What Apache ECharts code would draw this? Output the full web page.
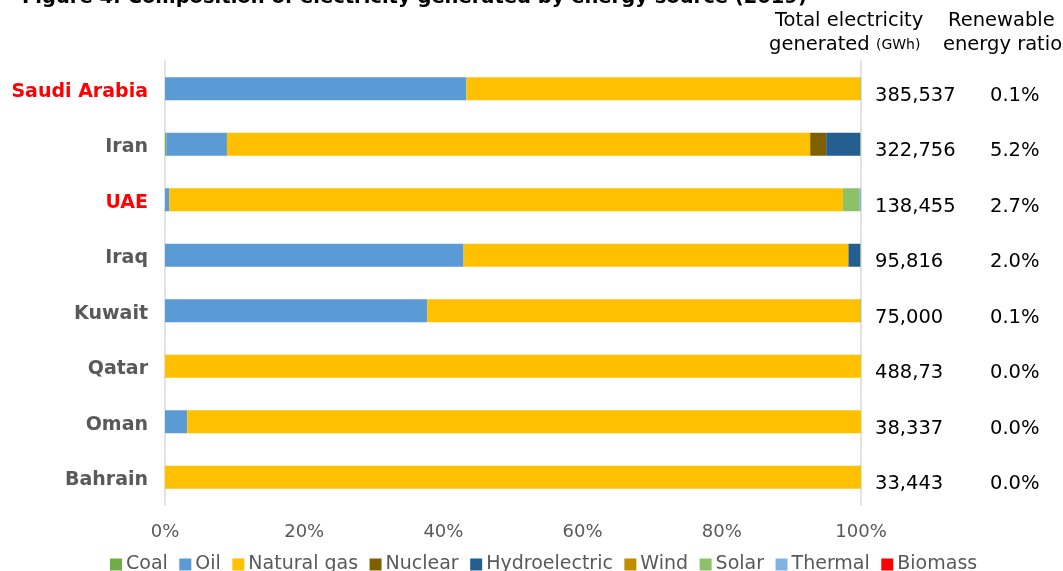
<!DOCTYPE html>
<html><head><meta charset="utf-8">
<script src="https://cdn.jsdelivr.net/npm/echarts@6/dist/echarts.min.js"></script>
<style>html,body{margin:0;padding:0;background:#fff}#c{width:1063px;height:571px}</style>
</head><body><div id="c"></div>
<script>
const countries = ['Saudi Arabia','Iran','UAE','Iraq','Kuwait','Qatar','Oman','Bahrain'];
const totals = ['385,537','322,756','138,455','95,816','75,000','488,73','38,337','33,443'];
const renewRatio = ['0.1%','5.2%','2.7%','2.0%','0.1%','0.0%','0.0%','0.0%'];
const highlighted = ['Saudi Arabia','UAE'];
const sources = ['Coal','Oil','Natural gas','Nuclear','Hydroelectric','Wind','Solar','Thermal','Biomass'];
// shares in %, same order as countries
const coal   = [0,   0.2, 0,   0,   0,   0, 0,   0];
const oil    = [43.3,8.7, 0.6, 42.9,37.7,0, 3.2, 0];
const gas    = [56.6,83.8,96.8,55.3,62.2,100,96.8,100];
const nuclear= [0,   2.3, 0,   0,   0,   0, 0,   0];
const hydro  = [0,   4.9, 0,   1.7, 0,   0, 0,   0];
const wind   = [0,   0,   0,   0,   0,   0, 0,   0];
const solar  = [0.1, 0.1, 2.4, 0.1, 0.1, 0, 0,   0];
const thermal= [0,   0,   0.2, 0,   0,   0, 0,   0];
const biomass= [0,   0,   0,   0,   0,   0, 0,   0];
const xTicks = [0,20,40,60,80,100];
const colors = ['#70AD47','#5B9BD5','#FFC000','#7F6000','#255E91','#BF8F00','#8CC168','#7FB2E5','#FF0000'];
const seriesData = [coal,oil,gas,nuclear,hydro,wind,solar,thermal,biomass];

const FONT = 'DejaVu Sans';
const chart = echarts.init(document.getElementById('c'));
chart.setOption({
  animation:false,
  textStyle:{fontFamily:FONT},
  title:{text:'Figure 4: Composition of electricity generated by energy source (2019)',left:17,top:-17,
    textStyle:{fontSize:19.5,fontWeight:'bold',color:'#000',fontFamily:FONT}},
  graphic:[
    {type:'text',left:775,top:11,style:{text:'Total electricity',font:'19.5px "DejaVu Sans"',fill:'#000'}},
    {type:'text',left:769,top:35,style:{rich:{a:{font:'19.5px "DejaVu Sans"',fill:'#000'},b:{font:'14px "DejaVu Sans"',fill:'#000'}},text:'{a|generated }{b|(GWh)}'}},
    {type:'text',left:948,top:11,style:{text:'Renewable',font:'19.5px "DejaVu Sans"',fill:'#000'}},
    {type:'text',left:943,top:35,style:{text:'energy ratio',font:'19.5px "DejaVu Sans"',fill:'#000'}}
  ],
  legend:{data:sources,bottom:-8,left:105,itemWidth:12,itemHeight:12,itemGap:11.5,icon:'rect',
    textStyle:{fontSize:19,color:'#595959',fontFamily:FONT,padding:[0,0,0,-1]}},
  grid:{left:165,right:202,top:61,bottom:66},
  xAxis:{type:'value',min:0,max:100,interval:20,
    axisLabel:{formatter:'{value}%',fontSize:18,color:'#595959',margin:18},
    splitLine:{show:false},axisLine:{show:false},axisTick:{show:false}},
  yAxis:[
    {type:'category',data:countries,inverse:true,
      axisLine:{show:true,lineStyle:{color:'#D9D9D9',width:1.5}},axisTick:{show:false},
      axisLabel:{margin:17,
        formatter:function(v){return (highlighted.indexOf(v)>=0?'{r|':'{g|')+v+'}';},
        rich:{r:{fontSize:19,fontWeight:'bold',color:'#FF0000',padding:[6,0,0,0]},
              g:{fontSize:19,fontWeight:'bold',color:'#595959',padding:[6,0,0,0]}}}},
    {type:'category',data:countries,inverse:true,position:'right',
      axisLine:{show:true,lineStyle:{color:'#D9D9D9',width:1.5}},axisTick:{show:false},
      axisLabel:{margin:14,
        formatter:function(v,i){return '{a|'+totals[i]+'}{b|'+renewRatio[i]+'}';},
        rich:{a:{fontSize:19.5,color:'#000',width:115,align:'left',padding:[14,0,0,0]},
              b:{fontSize:19.5,color:'#000',align:'left',padding:[14,0,0,0]}}}}
  ],
  series: sources.map((s,k)=>({name:s,type:'bar',stack:'all',data:seriesData[k],barWidth:23,
    itemStyle:{color:colors[k]}}))
});
</script></body></html>
